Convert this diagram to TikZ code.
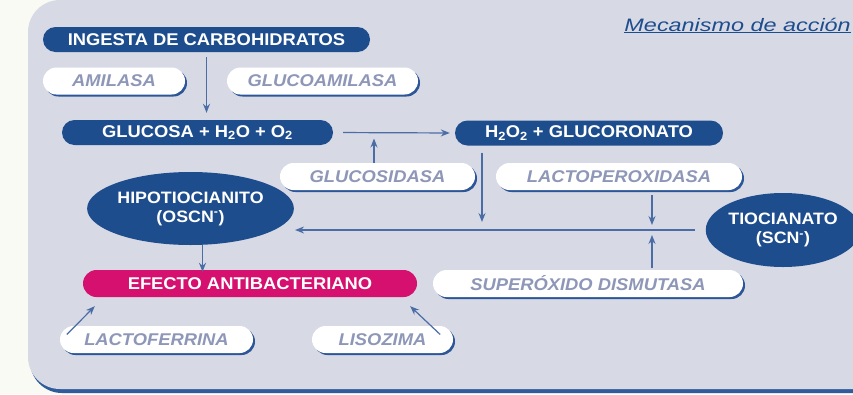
\documentclass[tikz,border=0pt]{standalone}
\usepackage{fontspec}
\setmainfont{Liberation Sans}[FakeStretch=1.08]
\newfontfamily\titlefont{Liberation Sans}[FakeStretch=1.3]
\usetikzlibrary{positioning,shapes.geometric,shadows,arrows.meta}
\definecolor{outerbg}{HTML}{FAFAF4}
\definecolor{panelbg}{HTML}{D7D9E5}
\definecolor{panelline}{HTML}{2F5C9C}
\definecolor{navy}{HTML}{1E4D8E}
\definecolor{pinkfx}{HTML}{D6106E}
\definecolor{labelgray}{HTML}{8E97B8}
\definecolor{pillshadow}{HTML}{2C5697}
\definecolor{linecol}{HTML}{4A6DA6}

\begin{document}
\begin{tikzpicture}[x=1pt, y=-1pt,
    pill/.style={rectangle, rounded corners=12.5pt, minimum height=25pt, inner sep=0pt,
                 font=\fontsize{17}{18}\selectfont\bfseries},
    darkpill/.style={pill, fill=navy, text=white},
    pinkpill/.style={pill, fill=pinkfx, text=white, minimum height=27pt, rounded corners=13.5pt},
    lightpill/.style={pill, fill=white, text=labelgray, minimum height=27pt, rounded corners=13.5pt,
                 font=\fontsize{17}{18}\selectfont\bfseries\itshape,
                 drop shadow={shadow xshift=2pt, shadow yshift=-2pt, fill=pillshadow, opacity=1}},
    oval/.style={ellipse, fill=navy, text=white, inner sep=0pt, align=center,
                 font=\fontsize{16.5}{19}\selectfont\bfseries},
    arr/.style={-{Stealth[length=9pt, width=7pt, inset=3pt]}, draw=linecol, line width=1.2pt}
]
    % background and panel
    \fill[outerbg] (0,0) rectangle (853,394);
    \useasboundingbox (0,0) rectangle (853,394);
    \fill[panelline, rounded corners=32pt] (30,4) rectangle (900,393);
    \fill[panelbg, rounded corners=32pt] (28,0) rectangle (900,389);

    \node[font=\titlefont\fontsize{18}{20}\selectfont\itshape, text=navy, anchor=base east, inner sep=0pt]
        (title) at (851,31) {\underline{Mecanismo de acción}};

    % nodes
    \node[darkpill, minimum width=327pt]  (ingesta)  at (206.5,39.5) {INGESTA DE CARBOHIDRATOS};
    \node[lightpill, minimum width=142pt] (amilasa)  at (114,81)     {AMILASA};
    \node[lightpill, minimum width=191pt] (glucoam)  at (322.5,81)   {GLUCOAMILASA};
    \node[darkpill, minimum width=271pt]  (glucosa)  at (197.5,132.5) {GLUCOSA + H\textsubscript{2}O + O\textsubscript{2}};
    \node[darkpill, minimum width=268pt]  (perox)    at (589,133)    {H\textsubscript{2}O\textsubscript{2} + GLUCORONATO};
    \node[lightpill, minimum width=195pt] (glucosid) at (377.5,176.5) {GLUCOSIDASA};
    \node[lightpill, minimum width=246pt] (lactoper) at (619,176.5)  {LACTOPEROXIDASA};
    \node[oval, minimum width=165pt, minimum height=73pt] (hipo) at (190.5,208.5)
        {HIPOTIOCIANITO\\(OSCN\textsuperscript{-})};
    \node[oval, minimum width=150pt, minimum height=74pt] (tioc) at (783,230)
        {TIOCIANATO\\(SCN\textsuperscript{-})};
    \node[pinkpill, minimum width=334pt]  (efecto)   at (250,283.5)  {EFECTO ANTIBACTERIANO};
    \node[lightpill, minimum width=310pt] (superox)  at (588,283.5)  {SUPERÓXIDO DISMUTASA};
    \node[lightpill, minimum width=193pt] (lactofer) at (156.5,339.5) {LACTOFERRINA};
    \node[lightpill, minimum width=141pt] (lisozima) at (382.5,339.5) {LISOZIMA};

    % junctions on the lines
    \coordinate (j1) at (374,132.5);
    \coordinate (j2) at (482,230);
    \coordinate (j3) at (652,230);

    % arrows
    \draw[arr, shorten <=5pt, shorten >=7pt] (ingesta.south) -- (ingesta.south |- glucosa.north);
    \draw[arr, shorten <=10pt, shorten >=5pt] (glucosa.east) -- (perox.west);
    \draw[arr, shorten >=6pt] (j1 |- glucosid.north) -- (j1);
    \draw[arr, shorten <=7pt, shorten >=8pt] (j2 |- perox.south) -- (j2);
    \draw[arr, shorten <=5pt, shorten >=5pt] (j3 |- lactoper.south) -- (j3);
    \draw[arr, shorten <=2pt, shorten >=5pt] (j3 |- superox.north) -- (j3);
    \draw[arr, shorten <=11pt, shorten >=1pt] (tioc.west) -- (tioc.west -| hipo.east);
    \draw[arr, shorten >=-2pt] ([xshift=12pt]hipo.south) -- ([xshift=12pt]hipo.south |- efecto.north);
    \draw[arr] ([shift={(7,-5)}]lactofer.west) -- ([shift={(12,9)}]efecto.south west);
    \draw[arr] ([shift={(-13,-5)}]lisozima.east) -- ([shift={(-7,9)}]efecto.south east);
\end{tikzpicture}
\end{document}
